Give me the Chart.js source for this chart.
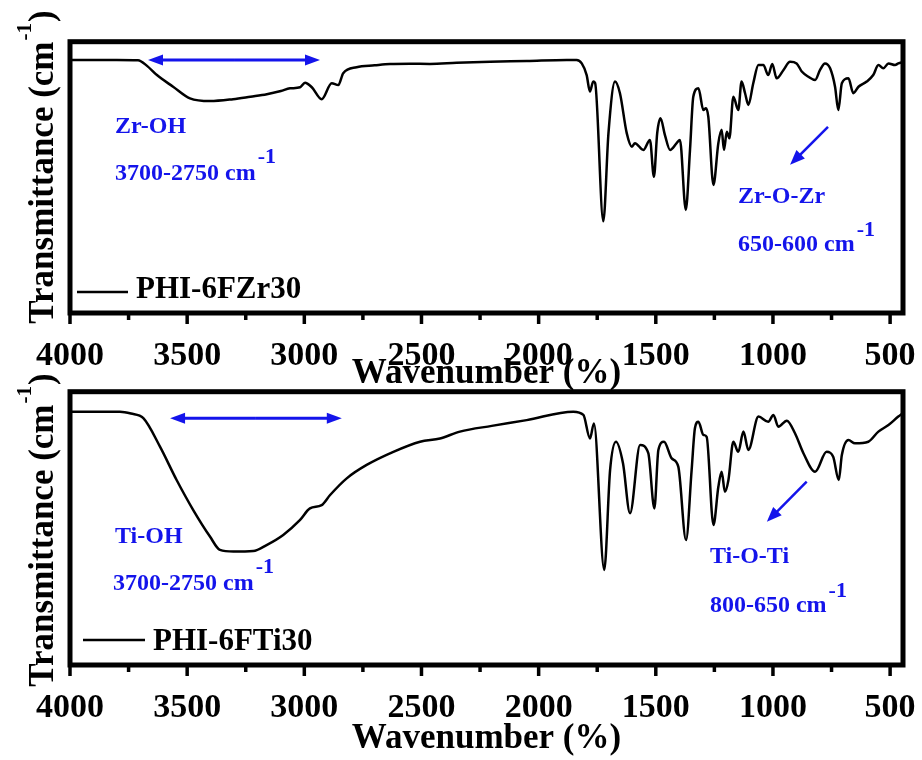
<!DOCTYPE html>
<html>
<head>
<meta charset="utf-8">
<script src="https://cdn.jsdelivr.net/npm/chart.js@4.4.1/dist/chart.umd.min.js"></script>
<style>
  body { margin: 0; background: #fff; }
  #wrap { position: relative; width: 922px; height: 760px; }
  canvas { position: absolute; left: 0; }
  #zr { top: 0; }
  #ti { top: 352px; }
</style>
</head>
<body>
<div id="wrap">
  <canvas id="zr" width="922" height="392"></canvas>
  <canvas id="ti" width="922" height="408"></canvas>
</div>
<script>
// axis ticks (cm-1)
const wavenumberTicks = [4000, 3500, 3000, 2500, 2000, 1500, 1000, 500];
const minorTicks = [3750, 3250, 2750, 2250, 1750, 1250, 750];
const seriesNames = ['PHI-6FZr30', 'PHI-6FTi30'];

// PHI-6FZr30 spectrum (transmittance, arbitrary 0-100)
const zrWavenumber = [4000, 3900, 3800, 3710, 3670, 3629, 3560, 3488, 3402, 3304, 3230, 3160, 3100, 3061, 3018, 2997, 2968, 2926, 2883, 2855, 2834, 2777, 2700, 2634, 2550, 2464, 2350, 2207, 2050, 1880, 1838, 1816, 1795, 1781, 1767, 1759, 1724, 1702, 1674, 1653, 1624, 1602, 1589, 1553, 1525, 1508, 1494, 1480, 1461, 1439, 1411, 1397, 1372, 1354, 1340, 1318, 1297, 1286, 1276, 1254, 1233, 1219, 1209, 1197, 1186, 1169, 1148, 1134, 1119, 1105, 1084, 1062, 1041, 1020, 1003, 984, 955, 927, 899, 877, 849, 820, 799, 778, 756, 735, 721, 706, 678, 657, 635, 600, 572, 550, 529, 507, 479, 465, 445];
const zrTransmittance = [93.3, 93.3, 93.3, 93.2, 91.0, 87.7, 83.4, 79.1, 78.1, 78.8, 79.7, 80.6, 81.8, 82.8, 83.2, 84.9, 83.2, 78.8, 84.7, 84.0, 88.4, 90.6, 91.3, 91.8, 91.9, 91.8, 92.2, 92.6, 92.9, 93.3, 93.3, 92.0, 87.7, 81.6, 85.3, 84.8, 33.8, 66.3, 85.3, 81.0, 66.3, 61.3, 62.6, 60.1, 63.8, 50.2, 66.3, 71.8, 65.6, 60.1, 62.6, 63.8, 38.0, 60.1, 79.7, 82.8, 74.8, 75.5, 72.4, 47.2, 62.6, 67.5, 60.1, 66.8, 64.4, 79.7, 74.8, 85.3, 81.0, 76.7, 84.7, 91.4, 91.4, 87.7, 91.8, 86.5, 89.6, 92.6, 92.0, 89.0, 87.1, 85.9, 89.6, 92.0, 90.2, 83.4, 74.8, 84.7, 86.5, 81.0, 83.4, 85.3, 87.7, 91.4, 90.2, 92.0, 91.4, 92.0, 92.5];

// PHI-6FTi30 spectrum
const tiWavenumber = [4000, 3900, 3787, 3740, 3687, 3616, 3545, 3474, 3402, 3360, 3303, 3218, 3161, 3090, 3018, 2976, 2926, 2890, 2819, 2734, 2620, 2506, 2421, 2336, 2200, 2051, 1852, 1809, 1781, 1764, 1720, 1695, 1670, 1640, 1610, 1567, 1532, 1506, 1489, 1465, 1432, 1404, 1371, 1347, 1333, 1318, 1297, 1283, 1254, 1233, 1219, 1205, 1190, 1169, 1148, 1126, 1105, 1062, 1020, 998, 977, 941, 906, 870, 820, 771, 743, 719, 706, 678, 650, 593, 550, 507, 465, 445];
const tiTransmittance = [92.7, 92.7, 92.7, 92.0, 90.3, 79.9, 67.7, 56.7, 46.9, 42.1, 41.5, 41.7, 43.9, 47.6, 53.1, 57.3, 58.5, 62.2, 68.3, 73.2, 78.0, 81.7, 82.9, 85.4, 87.5, 89.6, 92.7, 91.5, 82.9, 88.4, 34.8, 71.4, 81.7, 73.8, 55.5, 80.5, 77.5, 57.3, 78.7, 81.7, 75.6, 72.6, 45.7, 71.4, 86.6, 89.0, 84.2, 83.5, 51.2, 65.2, 70.7, 63.4, 67.7, 81.7, 78.0, 85.4, 78.7, 90.9, 89.0, 91.5, 87.2, 89.4, 84.8, 77.5, 70.7, 78.0, 76.2, 67.7, 76.8, 82.3, 81.1, 81.7, 85.4, 87.8, 90.9, 92.2];

const SERIF = '"Liberation Serif", "Times New Roman", serif';
const BLUE = 'rgb(20,20,235)';

function arrow(ctx, x1, y1, x2, y2, len, half) {
  const a = Math.atan2(y2 - y1, x2 - x1);
  ctx.beginPath();
  ctx.moveTo(x1, y1);
  ctx.lineTo(x2 - len * 0.8 * Math.cos(a), y2 - len * 0.8 * Math.sin(a));
  ctx.stroke();
  ctx.beginPath();
  ctx.moveTo(x2, y2);
  ctx.lineTo(x2 - len * Math.cos(a) + half * Math.sin(a), y2 - len * Math.sin(a) - half * Math.cos(a));
  ctx.lineTo(x2 - len * Math.cos(a) - half * Math.sin(a), y2 - len * Math.sin(a) + half * Math.cos(a));
  ctx.closePath();
  ctx.fill();
}

function supText(ctx, text, sup, x, y, rise) {
  ctx.font = 'bold 24px ' + SERIF;
  ctx.fillText(text, x, y);
  const w = ctx.measureText(text).width;
  ctx.font = 'bold 22px ' + SERIF;
  ctx.fillText(sup, x + w + 2, y - rise);
}

const decorations = {
  id: 'decorations',
  afterDatasetsDraw(chart, args, opts) {
    const ctx = chart.ctx;
    const a = chart.chartArea;
    const xs = chart.scales.x, ys = chart.scales.y;
    const px = v => xs.getPixelForValue(v);
    const py = v => ys.getPixelForValue(v);
    ctx.save();

    // frame
    ctx.strokeStyle = '#000';
    ctx.lineWidth = 5;
    ctx.strokeRect(a.left, a.top, a.right - a.left, a.bottom - a.top);

    // tick marks
    ctx.lineWidth = 3.5;
    wavenumberTicks.forEach(v => {
      ctx.beginPath(); ctx.moveTo(px(v), a.bottom); ctx.lineTo(px(v), a.bottom + 11); ctx.stroke();
    });
    minorTicks.forEach(v => {
      ctx.beginPath(); ctx.moveTo(px(v), a.bottom); ctx.lineTo(px(v), a.bottom + 7); ctx.stroke();
    });

    // y title
    ctx.fillStyle = '#000';
    ctx.textBaseline = 'alphabetic';
    ctx.textAlign = 'left';
    ctx.translate(53, opts.titleY);
    ctx.rotate(-Math.PI / 2);
    ctx.font = 'bold 35px ' + SERIF;
    const main = 'Transmittance (cm';
    const w1 = ctx.measureText(main).width;
    ctx.font = 'bold 21px ' + SERIF;
    const w2 = ctx.measureText('-1').width;
    ctx.font = 'bold 35px ' + SERIF;
    const w3 = ctx.measureText(')').width;
    let tx = -(w1 + w2 + w3 + 2) / 2;
    ctx.fillText(main, tx, 0);
    tx += w1 + 1;
    ctx.font = 'bold 21px ' + SERIF;
    ctx.fillText('-1', tx, -22);
    tx += w2 + 1;
    ctx.font = 'bold 35px ' + SERIF;
    ctx.fillText(')', tx, 0);
    ctx.setTransform(1, 0, 0, 1, 0, 0);

    // legend
    const lg = opts.legend;
    ctx.lineWidth = 2.5;
    ctx.beginPath();
    ctx.moveTo(a.left + lg.x0, a.bottom - lg.lineUp);
    ctx.lineTo(a.left + lg.x1, a.bottom - lg.lineUp);
    ctx.stroke();
    ctx.font = 'bold 31px ' + SERIF;
    ctx.fillText(opts.name, a.left + lg.x1 + 8, a.bottom - 15);

    // annotations
    const an = opts.notes;
    ctx.strokeStyle = BLUE;
    ctx.fillStyle = BLUE;
    ctx.lineWidth = 3;
    const d = an.span;
    arrow(ctx, px((d[0] + d[1]) / 2), py(d[2]), px(d[0]), py(d[2]), 15, 5.5);
    arrow(ctx, px((d[0] + d[1]) / 2), py(d[2]), px(d[1]), py(d[2]), 15, 5.5);
    ctx.lineWidth = 2.5;
    const p = an.pointer;
    arrow(ctx, px(p[0]), py(p[1]), px(p[2]), py(p[3]), 15, 6);

    ctx.font = 'bold 24px ' + SERIF;
    ctx.fillText(an.hydroxyl[0], px(an.hydroxyl[1]), py(an.hydroxyl[2]));
    supText(ctx, an.hydroxylRange[0], '-1', px(an.hydroxylRange[1]), py(an.hydroxylRange[2]), 17);
    ctx.font = 'bold 24px ' + SERIF;
    ctx.fillText(an.bridge[0], px(an.bridge[1]), py(an.bridge[2]));
    supText(ctx, an.bridgeRange[0], '-1', px(an.bridgeRange[1]), py(an.bridgeRange[2]), 15);
    ctx.restore();
  }
};

function makePanel(id, name, wn, tr, topPad, axisHeight, titlePad, decoOpts) {
  const ctx = document.getElementById(id).getContext('2d');
  decoOpts.name = name;
  return new Chart(ctx, {
    type: 'line',
    data: {
      datasets: [{
        label: name,
        data: wn.map((w, i) => ({ x: w, y: tr[i] })),
        borderColor: '#000',
        borderWidth: 2.5,
        pointRadius: 0,
        cubicInterpolationMode: 'monotone',
        fill: false
      }]
    },
    options: {
      responsive: false,
      animation: false,
      devicePixelRatio: 1,
      layout: { padding: { top: topPad, right: 19, left: 0, bottom: 0 } },
      plugins: {
        legend: { display: false },
        tooltip: { enabled: false },
        decorations: decoOpts
      },
      scales: {
        x: {
          type: 'linear',
          reverse: true,
          min: 445,
          max: 4000,
          afterBuildTicks: s => { s.ticks = wavenumberTicks.map(v => ({ value: v })); },
          afterFit: s => { s.height = axisHeight; s.paddingLeft = 0; s.paddingRight = 0; },
          grid: { display: false },
          border: { display: false },
          ticks: {
            color: '#000',
            padding: 18,
            maxRotation: 0,
            autoSkip: false,
            callback: v => String(v),
            font: { family: SERIF, size: 34, weight: 'bold', lineHeight: 1 }
          },
          title: {
            display: true,
            text: 'Wavenumber (%)',
            color: '#000',
            padding: { top: 0, bottom: titlePad },
            font: { family: SERIF, size: 35, weight: 'bold', lineHeight: 1 }
          }
        },
        y: {
          min: 0,
          max: 100,
          afterFit: s => { s.width = 70; },
          grid: { display: false },
          border: { display: false },
          ticks: { display: false }
        }
      }
    },
    plugins: [decorations]
  });
}

makePanel('zr', seriesNames[0], zrWavenumber, zrTransmittance, 41.7, 79, 1, {
  titleY: 167,
  legend: { x0: 7, x1: 58, lineUp: 21 },
  notes: {
    span: [3667, 2933, 93.3],
    pointer: [765, 68.6, 927, 54.6],
    hydroxyl: ['Zr-OH', 3808, 66.5],
    hydroxylRange: ['3700-2750 cm', 3808, 49.0],
    bridge: ['Zr-O-Zr', 1149, 40.4],
    bridgeRange: ['650-600 cm', 1149, 23.0]
  }
});

makePanel('ti', seriesNames[1], tiWavenumber, tiTransmittance, 39.7, 95, 4, {
  titleY: 178,
  legend: { x0: 13, x1: 75, lineUp: 25 },
  notes: {
    span: [3573, 2840, 90.3],
    pointer: [856, 67.1, 1026, 52.4],
    hydroxyl: ['Ti-OH', 3808, 44.5],
    hydroxylRange: ['3700-2750 cm', 3816, 27.4],
    bridge: ['Ti-O-Ti', 1269, 37.2],
    bridgeRange: ['800-650 cm', 1269, 19.5]
  }
});
</script>
</body>
</html>
